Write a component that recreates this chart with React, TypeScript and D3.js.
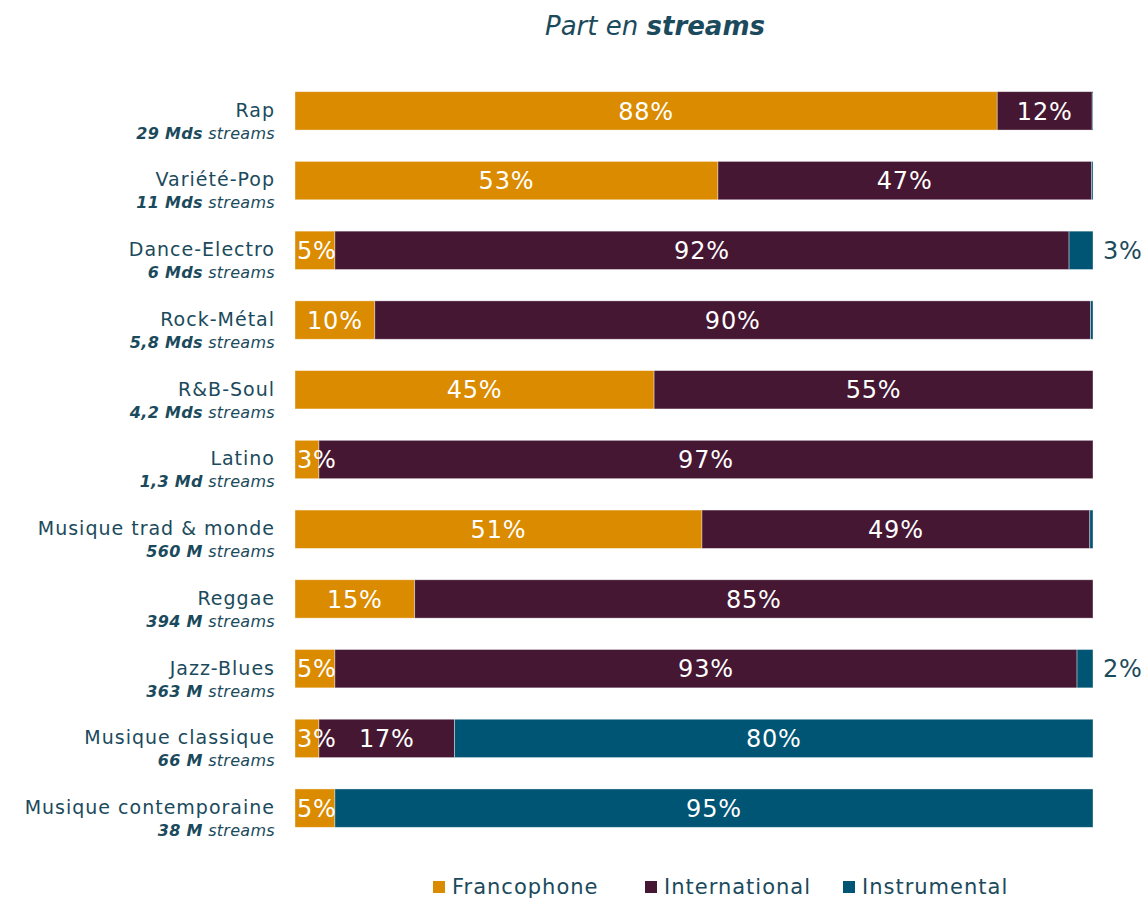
import React from "react";
import * as d3 from "d3";

const categories = [
  "Rap",
  "Variété-Pop",
  "Dance-Electro",
  "Rock-Métal",
  "R&B-Soul",
  "Latino",
  "Musique trad & monde",
  "Reggae",
  "Jazz-Blues",
  "Musique classique",
  "Musique contemporaine",
];
const volumeBold = ["29 Mds", "11 Mds", "6 Mds", "5,8 Mds", "4,2 Mds", "1,3 Md", "560 M", "394 M", "363 M", "66 M", "38 M"];
const francophone = [88, 53, 5, 10, 45, 3, 51, 15, 5, 3, 5];
const international = [11.9, 46.8, 92, 89.7, 55, 97, 48.6, 85, 93, 17, 0];
const instrumental = [0.1, 0.2, 3, 0.3, 0, 0, 0.4, 0, 2, 80, 95];
const seriesNames = ["Francophone", "International", "Instrumental"];
const colors = ["#DB8B00", "#451733", "#005574"];
const textColor = "#1B4A5C";

const W = 1145;
const H = 901;
const FONT = "'DejaVu Sans', sans-serif";
const VAL_SIZE = 24;

function estWidth(s: string, size: number) {
  let w = 0;
  for (const ch of s) w += ch === "%" ? 0.95 : 0.64;
  return w * size + s.length * 0.8;
}

export default function App() {
  const rows = categories.map((c, i) => ({
    cat: c,
    vals: [francophone[i], international[i], instrumental[i]],
  }));
  const x = d3.scaleLinear().domain([0, 100]).range([295, 1093]);
  const y = d3.scaleBand().domain(categories).range([76, 843]).paddingInner(0.45).paddingOuter(0.225);
  const bh = y.bandwidth();
  const stack = d3.stack<any>().keys(["0", "1", "2"]).value((d: any, k: string) => d.vals[+k]);
  const stacked = stack(rows);

  const legendX = [433, 645, 843];

  return (
    <div style={{ position: "absolute", left: 0, top: 0 }}>
      <svg width={W} height={H} style={{ display: "block", background: "#fff" }}>
        <text x={655} y={35} textAnchor="middle" fontFamily={FONT} fontSize={26} fill={textColor} fontStyle="italic">
          Part en <tspan fontWeight="bold">streams</tspan>
        </text>
        {stacked.map((s, si) =>
          s.map((d, i) => {
            const v = rows[i].vals[si];
            if (v <= 0) return null;
            const x0 = x(d[0]);
            const x1 = x(d[1]);
            const yy = y(rows[i].cat)!;
            return (
              <rect key={`${si}-${i}`} x={x0} y={yy} width={Math.max(0, x1 - x0)} height={bh}
                fill={colors[si]} stroke="#ffffff" strokeOpacity={0.5} strokeWidth={0.75} />
            );
          })
        )}
        {stacked.map((s, si) =>
          s.map((d, i) => {
            const v = rows[i].vals[si];
            if (v < 1) return null;
            const yy = y(rows[i].cat)! + bh / 2;
            const label = `${Math.round(v)}%`;
            const outside = si === 2 && v < 5;
            if (outside) {
              return (
                <text key={`l${si}-${i}`} x={x(d[1]) + 10} y={yy} dy="0.36em" fontFamily={FONT} fontSize={VAL_SIZE}
                  letterSpacing={0.8} fill={textColor}>
                  {label}
                </text>
              );
            }
            let cx = (x(d[0]) + x(d[1])) / 2;
            const w = estWidth(label, VAL_SIZE);
            if (cx - w / 2 < x(0) + 2) cx = x(0) + 2 + w / 2;
            return (
              <text key={`l${si}-${i}`} x={cx} y={yy} dy="0.36em" textAnchor="middle"
                fontFamily={FONT} fontSize={VAL_SIZE} letterSpacing={0.8} fill="#ffffff">
                {label}
              </text>
            );
          })
        )}
        {rows.map((r, i) => {
          const yy = y(r.cat)!;
          return (
            <g key={`c${i}`} fontFamily={FONT} fill={textColor} textAnchor="end">
              <text x={275} y={yy + 25} fontSize={19} letterSpacing={1}>{r.cat}</text>
              <text x={275} y={yy + 47} fontSize={16} fontStyle="italic" letterSpacing={0.3}>
                <tspan fontWeight="bold">{volumeBold[i]}</tspan> streams
              </text>
            </g>
          );
        })}
        {seriesNames.map((n, i) => (
          <g key={`lg${i}`}>
            <rect x={legendX[i]} y={881} width={12} height={12} fill={colors[i]} />
            <text x={legendX[i] + 19} y={894} fontFamily={FONT} fontSize={21} letterSpacing={1} fill={textColor}>{n}</text>
          </g>
        ))}
      </svg>
    </div>
  );
}
